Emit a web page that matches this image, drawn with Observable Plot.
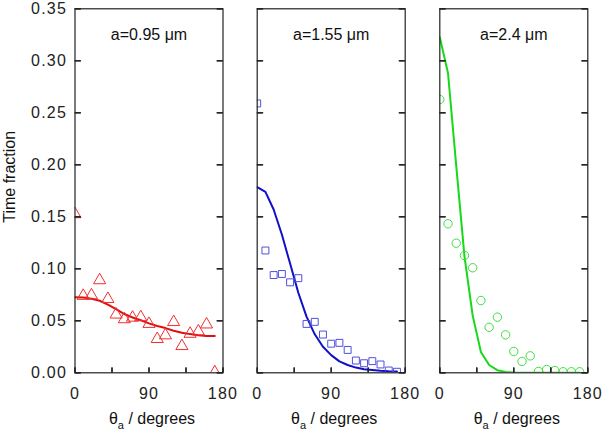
<!DOCTYPE html>
<html><head><meta charset="utf-8">
<script src="https://cdn.jsdelivr.net/npm/d3@7"></script>
<script src="https://cdn.jsdelivr.net/npm/@observablehq/plot@0.6"></script>
<style>
body{margin:0;background:#fff;}
#chart{position:relative;width:602px;height:432px;overflow:hidden;background:#fff;}
#chart svg{position:absolute;top:0;}
</style></head><body><div id="chart"></div>
<script>
// ---- data ----
const angles = [0,10,20,30,40,50,60,70,80,90,100,110,120,130,140,150,160,170];
const triangles = [0.1525,0.074,0.0745,0.089,0.071,0.056,0.0515,0.053,0.0535,0.047,0.0325,0.036,0.0488,0.0257,0.0375,0.0398,0.0465,0.0005];
const squares   = [0.259,0.1176,0.094,0.095,0.087,0.091,0.047,0.049,0.0368,0.028,0.0288,0.022,0.0118,0.0092,0.0112,0.008,0.0022,0.001];
const circles   = [0.2628,0.1433,0.1246,0.1128,0.101,0.0695,0.0438,0.0535,0.0365,0.0205,0.0109,0.0163,0.0013,0.0032,0.0022,0.001,0.001,0.001];
const fitRed    = [0.0727,0.0724,0.0712,0.0693,0.0655,0.0612,0.0565,0.0532,0.0505,0.0475,0.0450,0.0430,0.0405,0.0386,0.0372,0.0362,0.0355,0.0353];
const fitBlue   = [0.1785,0.174,0.157,0.133,0.105,0.077,0.054,0.037,0.025,0.017,0.011,0.0075,0.005,0.0035,0.0028,0.002,0.0015,0.0012];
const fitGreen  = [0.3227,0.288,0.199,0.112,0.055,0.020,0.0075,0.0025,0.0008,0.0002,0,0,0,0,0,0,0,0];
const titles = ["a=0.95 μm", "a=1.55 μm", "a=2.4 μm"];
const yTicks = [0,0.05,0.10,0.15,0.20,0.25,0.30,0.35];
const xMajorTicks = [0,45,90,135,180];
const xLabelTicks = [0,90,180];
const xLabel = "θa / degrees";
const yLabel = "Time fraction";

// ---- layout / style ----
const panels = [
  {title: titles[0], pts: triangles, fit: fitRed,   symbol: "triangle", r: 4.5, ptColor: "#ee3030", lineColor: "#e01010", left: 0,   width: 238, ml: 74.5, yLabels: true},
  {title: titles[1], pts: squares,   fit: fitBlue,  symbol: "square",   r: 3.9, ptColor: "#5050dd", lineColor: "#1010c8", left: 238, width: 183, ml: 18.7},
  {title: titles[2], pts: circles,   fit: fitGreen, symbol: "circle",   r: 4.2, ptColor: "#40dd40", lineColor: "#18d818", left: 421, width: 181, ml: 18.3}
];
const H = 432, MT = 8.3, MB = 432 - 372.3, PW = 148, PH = H - MT - MB;
const AX = "#222";
// tick-shaped symbols (inward ticks)
const tickRightSym = {draw(ctx) { ctx.moveTo(0, 0); ctx.lineTo(6, 0); }};
const tickLeftSym  = {draw(ctx) { ctx.moveTo(0, 0); ctx.lineTo(-6, 0); }};
const tickUpSym    = {draw(ctx) { ctx.moveTo(0, 0); ctx.lineTo(0, -5); }};
const chart = document.getElementById("chart");

for (const p of panels) {
  const pts = angles.map((a, i) => ({a, v: p.pts[i]}));
  const fit = angles.map((a, i) => ({a, v: p.fit[i]}));
  const marks = [
    Plot.line(fit, {x: "a", y: "v", stroke: p.lineColor, strokeWidth: 2, clip: true}),
    Plot.dot(pts, {x: "a", y: "v", symbol: p.symbol, r: p.r, stroke: p.ptColor, strokeWidth: 1, fill: "none", clip: true}),
    Plot.axisX(xLabelTicks, {anchor: "bottom", tickSize: 0, tickPadding: 14.5, label: null}),
    Plot.frame({stroke: AX, strokeWidth: 1.2}),
    Plot.text([p.title], {text: d => d, frameAnchor: "top", dy: 31.5, lineAnchor: "bottom", fill: "#111"}),
    Plot.text([xLabel], {text: d => d, frameAnchor: "bottom", dy: 50.7, dx: 3, lineAnchor: "bottom", fill: "#111"})
  ];
  if (p.yLabels) {
    marks.push(Plot.axisY(yTicks, {anchor: "left", tickSize: 0, tickPadding: 8, tickFormat: d3.format(".2f"), label: null}));
    marks.push(Plot.text([yLabel], {text: d => d, frameAnchor: "left", rotate: -90, textAnchor: "middle", dx: 9.5 - p.ml, dy: -14, fill: "#111"}));
  }
  // inward ticks, drawn last
  marks.push(
    Plot.tickY(yTicks, {y: d => d, insetRight: PW - 6, stroke: AX, strokeWidth: 1.3}),
    Plot.tickY(yTicks, {y: d => d, insetLeft: PW - 6, stroke: AX, strokeWidth: 1.3}),
    Plot.tickX(xMajorTicks, {x: d => d, insetTop: PH - 5, stroke: AX, strokeWidth: 1.3}),
    Plot.dot(yTicks, {y: d => d, frameAnchor: "left", symbol: tickRightSym, stroke: AX, strokeWidth: 1.3, fill: "none"}),
    Plot.dot(yTicks, {y: d => d, frameAnchor: "right", symbol: tickLeftSym, stroke: AX, strokeWidth: 1.3, fill: "none"}),
    Plot.dot(xMajorTicks, {x: d => d, frameAnchor: "bottom", symbol: tickUpSym, stroke: AX, strokeWidth: 1.3, fill: "none"})
  );
  const svg = Plot.plot({
    width: p.width, height: H,
    marginLeft: p.ml, marginRight: p.width - p.ml - PW, marginTop: MT, marginBottom: MB,
    x: {domain: [0, 180], axis: null},
    y: {domain: [0, 0.35], axis: null},
    style: {fontFamily: "'Liberation Sans', Arial, sans-serif", fontSize: "16px", color: "#222", background: "transparent"},
    marks
  });
  svg.style.left = p.left + "px";
  svg.querySelectorAll('[aria-label="y-axis tick label"] text, [aria-label="x-axis tick label"] text').forEach(t => t.setAttribute("letter-spacing", "1.2"));
  // subscript for θ_a
  svg.querySelectorAll("text").forEach(t => {
    if (t.textContent === xLabel) {
      t.textContent = "";
      const ns = "http://www.w3.org/2000/svg";
      const s1 = document.createElementNS(ns, "tspan"); s1.textContent = "θ";
      const s2 = document.createElementNS(ns, "tspan"); s2.textContent = "a"; s2.setAttribute("dy", "5"); s2.setAttribute("font-size", "11");
      const s3 = document.createElementNS(ns, "tspan"); s3.textContent = " / degrees"; s3.setAttribute("dy", "-5");
      t.append(s1, s2, s3);
    }
  });
  chart.appendChild(svg);
}
</script></body></html>
